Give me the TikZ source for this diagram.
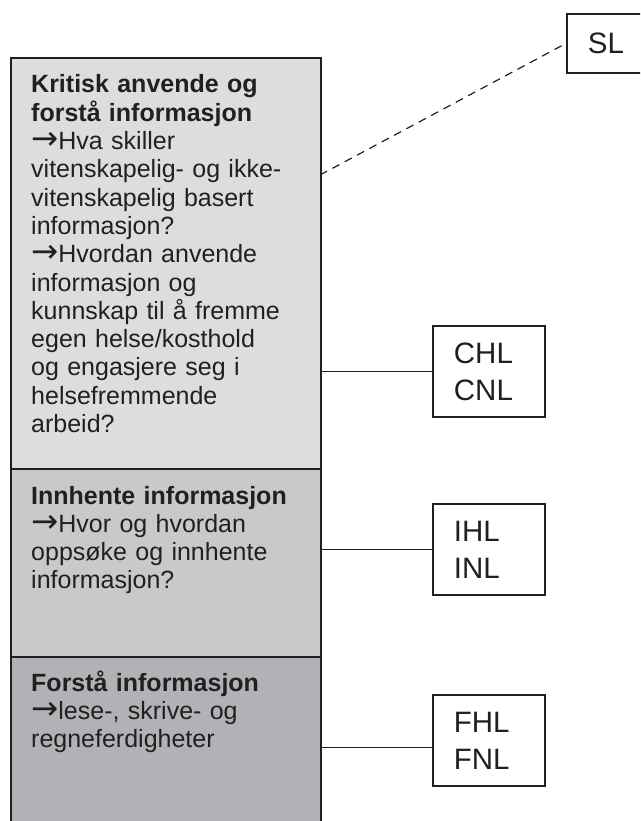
\documentclass[tikz,border=0pt]{standalone}
\usepackage{fontspec}
\setmainfont{Liberation Sans}
\newfontfamily\arrowfont{DejaVu Sans}
\newcommand{\arr}{{\arrowfont\smash{\scalebox{1.3}{→}}}}
\definecolor{ink}{HTML}{231F20}
\definecolor{fillA}{HTML}{DCDDDF}
\definecolor{fillB}{HTML}{C8C9CB}
\definecolor{fillC}{HTML}{B1B2B5}
\begin{document}
\begin{tikzpicture}[x=1pt,y=-1pt,
  colbox/.style={draw=ink, line width=1.8pt, rectangle, minimum width=310pt, inner sep=0pt, anchor=north west},
  bodytext/.style={text=ink, anchor=base west, inner sep=0pt, text width=290pt, align=left, font=\fontsize{25}{28.3}\selectfont},
  labbox/.style={draw=ink, line width=1.8pt, fill=white, text=ink, inner xsep=21pt, inner ysep=0pt, text width=70pt, align=left, minimum height=91pt, anchor=north west, font=\fontsize{29.5}{37}\selectfont},
  conn/.style={draw=ink, line width=1.3pt}]
\clip (0,0) rectangle (640,821);
\fill[white] (0,0) rectangle (640,821);
% column
\node[colbox, fill=fillA, minimum height=411pt] (crit) at (10,57) {};
\node[colbox, fill=fillB, minimum height=188pt] (inn) at (10,468) {};
\node[colbox, fill=fillC, minimum height=200pt] (fors) at (10,656) {};
% texts
\node[bodytext] (critT) at (31,93) {\textbf{Kritisk anvende og}\\\textbf{forstå informasjon}\\\arr Hva skiller\\vitenskapelig- og ikke-\\vitenskapelig basert\\informasjon?\\\arr Hvordan anvende\\informasjon og\\kunnskap til å fremme\\egen helse/kosthold\\og engasjere seg i\\helsefremmende\\arbeid?};
\node[bodytext] (innT) at (31,504) {\textbf{Innhente informasjon}\\\arr Hvor og hvordan\\oppsøke og innhente\\informasjon?};
\node[bodytext] (forsT) at (31,691) {\textbf{Forstå informasjon}\\\arr lese-, skrive- og\\regneferdigheter};
% label boxes
\node[labbox, minimum height=59pt, text width=72pt] (sl) at (566,13) {SL};
\node[labbox] (chl) at (432,325) {CHL\\CNL};
\node[labbox] (ihl) at (432,503) {IHL\\INL};
\node[labbox] (fhl) at (432,694) {FHL\\FNL};
% connectors
\coordinate (slfrom) at (320,175);
\draw[conn, line width=1.2pt, dash pattern=on 8pt off 6pt] (slfrom) -- (sl.west);
\draw[conn] (crit.east |- chl.west) -- (chl.west);
\draw[conn] (inn.east |- ihl.west) -- (ihl.west);
\draw[conn] (fors.east |- fhl.west) ++(0,7) -- ([yshift=-7pt]fhl.west);
\end{tikzpicture}
\end{document}
